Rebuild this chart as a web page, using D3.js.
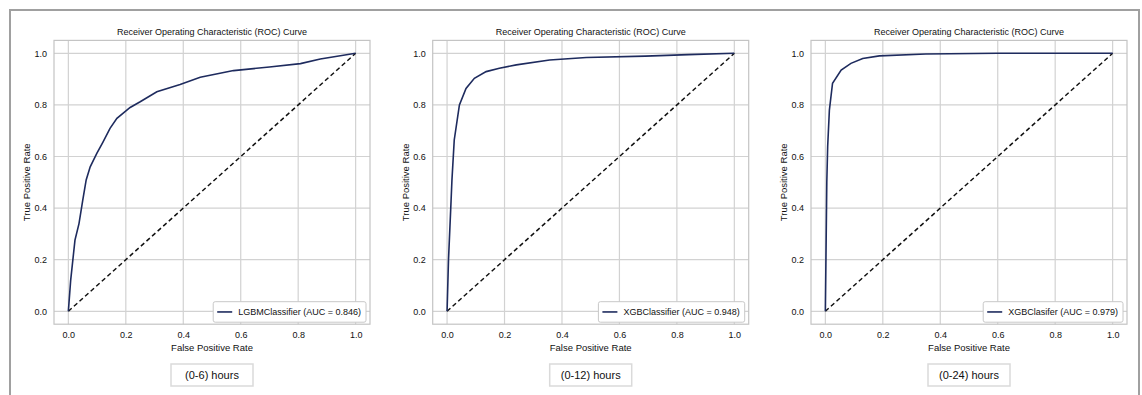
<!DOCTYPE html>
<html>
<head>
<meta charset="utf-8"/>
<title>ROC curves</title>
<script src="https://cdn.jsdelivr.net/npm/d3@7"></script>
<style>
  body { margin: 0; background: #fff; }
  text { font-family: "Liberation Sans", Arial, sans-serif; fill: #111; }
</style>
</head>
<body>
<svg id="chart" width="1142" height="395"></svg>
<script>
// chart data
var titles = ["Receiver Operating Characteristic (ROC) Curve", "Receiver Operating Characteristic (ROC) Curve", "Receiver Operating Characteristic (ROC) Curve"];
var legendLabels = ["LGBMClassifier (AUC = 0.846)", "XGBClassifier (AUC = 0.948)", "XGBClasifer (AUC = 0.979)"];
var windowLabels = ["(0-6) hours", "(0-12) hours", "(0-24) hours"];
var ticks = [0, 0.2, 0.4, 0.6, 0.8, 1.0];

var fpr6  = [0, 0.008, 0.023, 0.037, 0.05, 0.062, 0.076, 0.099, 0.12, 0.145, 0.169, 0.215, 0.25, 0.308, 0.389, 0.459, 0.575, 0.7, 0.808, 0.877, 1];
var tpr6  = [0, 0.12, 0.276, 0.34, 0.43, 0.509, 0.56, 0.612, 0.655, 0.709, 0.748, 0.79, 0.812, 0.851, 0.879, 0.907, 0.933, 0.947, 0.96, 0.978, 1];
var fpr12 = [0, 0.005, 0.014, 0.017, 0.025, 0.043, 0.066, 0.095, 0.136, 0.182, 0.241, 0.357, 0.485, 0.69, 0.84, 1];
var tpr12 = [0, 0.2, 0.43, 0.509, 0.664, 0.8, 0.864, 0.903, 0.929, 0.942, 0.955, 0.974, 0.984, 0.989, 0.995, 1];
var fpr24 = [0, 0.003, 0.005, 0.008, 0.014, 0.025, 0.055, 0.089, 0.13, 0.188, 0.35, 0.6, 1];
var tpr24 = [0, 0.3, 0.5, 0.638, 0.78, 0.884, 0.935, 0.961, 0.98, 0.99, 0.997, 1, 1];

var curves = [[fpr6, tpr6], [fpr12, tpr12], [fpr24, tpr24]];

var svg = d3.select("#chart");

// outer frame
svg.append("path")
  .attr("d", "M10,400 L10,10 L1139,10 L1139,400")
  .attr("fill", "none").attr("stroke", "#a0a0a0").attr("stroke-width", 2);

var plotLefts = [54, 432.7, 811];
var plotW = 316, plotTop = 40.4, plotBottom = 324.2;

plotLefts.forEach(function(left, i){
  var x = d3.scaleLinear().domain([-0.05, 1.05]).range([left, left + plotW]);
  var y = d3.scaleLinear().domain([-0.05, 1.05]).range([plotBottom, plotTop]);
  var g = svg.append("g");

  // grid
  g.selectAll(".gx").data(ticks).enter().append("line")
    .attr("x1", d => x(d)).attr("x2", d => x(d))
    .attr("y1", plotTop).attr("y2", plotBottom)
    .attr("stroke", "#d2d2d2").attr("stroke-width", 1.2);
  g.selectAll(".gy").data(ticks).enter().append("line")
    .attr("y1", d => y(d)).attr("y2", d => y(d))
    .attr("x1", left).attr("x2", left + plotW)
    .attr("stroke", "#d2d2d2").attr("stroke-width", 1.2);

  g.append("rect")
    .attr("x", left).attr("y", plotTop)
    .attr("width", plotW).attr("height", plotBottom - plotTop)
    .attr("fill", "none").attr("stroke", "#c4c4c4").attr("stroke-width", 1.2);

  // axes (labels only, like seaborn whitegrid)
  var xAxis = d3.axisBottom(x).tickValues(ticks).tickFormat(d3.format(".1f")).tickSize(0).tickPadding(7);
  var yAxis = d3.axisLeft(y).tickValues(ticks).tickFormat(d3.format(".1f")).tickSize(0).tickPadding(7);
  var gx = g.append("g").attr("transform", "translate(0," + plotBottom + ")").call(xAxis);
  var gy = g.append("g").attr("transform", "translate(" + left + ",0)").call(yAxis);
  [gx, gy].forEach(function(a){
    a.select(".domain").remove();
    a.selectAll("text").style("font-size", "9px").attr("fill", "#111");
  });

  // diagonal
  g.append("line")
    .attr("x1", x(0)).attr("y1", y(0)).attr("x2", x(1)).attr("y2", y(1))
    .attr("stroke", "#111").attr("stroke-width", 1.5).attr("stroke-dasharray", "4.5,3");

  // roc curve
  var pts = curves[i][0].map((f, k) => [f, curves[i][1][k]]);
  g.append("path").datum(pts)
    .attr("d", d3.line().x(d => x(d[0])).y(d => y(d[1])))
    .attr("fill", "none").attr("stroke", "#1e2b5e").attr("stroke-width", 1.6);

  // title and labels
  var cx = left + plotW / 2;
  g.append("text").attr("x", cx).attr("y", 35).attr("text-anchor", "middle")
    .style("font-size", "9px").text(titles[i]);
  g.append("text").attr("x", cx).attr("y", 351).attr("text-anchor", "middle")
    .style("font-size", "9.5px").text("False Positive Rate");
  g.append("text").attr("transform", "translate(" + (left - 24) + "," + y(0.5) + ") rotate(-90)")
    .attr("text-anchor", "middle").style("font-size", "9.5px").text("True Positive Rate");

  // legend
  var lg = g.append("g");
  var lt = lg.append("text").attr("x", 0).attr("y", 0).style("font-size", "9px").text(legendLabels[i]);
  var tw = lt.node().getComputedTextLength();
  var lw = tw + 30, lh = 20.5;
  var lx = left + plotW - 4 - lw, ly = 301.7;
  lg.insert("rect", "text").attr("x", lx).attr("y", ly).attr("width", lw).attr("height", lh)
    .attr("rx", 2).attr("fill", "#fff").attr("stroke", "#c8c8c8").attr("stroke-width", 1);
  lg.append("line").attr("x1", lx + 4).attr("x2", lx + 19).attr("y1", ly + lh / 2).attr("y2", ly + lh / 2)
    .attr("stroke", "#1e2b5e").attr("stroke-width", 1.6);
  lt.attr("x", lx + 25).attr("y", ly + lh / 2 + 3.2);

  // time window label box
  g.append("rect").attr("x", cx - 41).attr("y", 364).attr("width", 82).attr("height", 22)
    .attr("fill", "#fff").attr("stroke", "#dadada").attr("stroke-width", 1.5);
  g.append("text").attr("x", cx).attr("y", 379).attr("text-anchor", "middle")
    .style("font-size", "11px").text(windowLabels[i]);
});
</script>
</body>
</html>
